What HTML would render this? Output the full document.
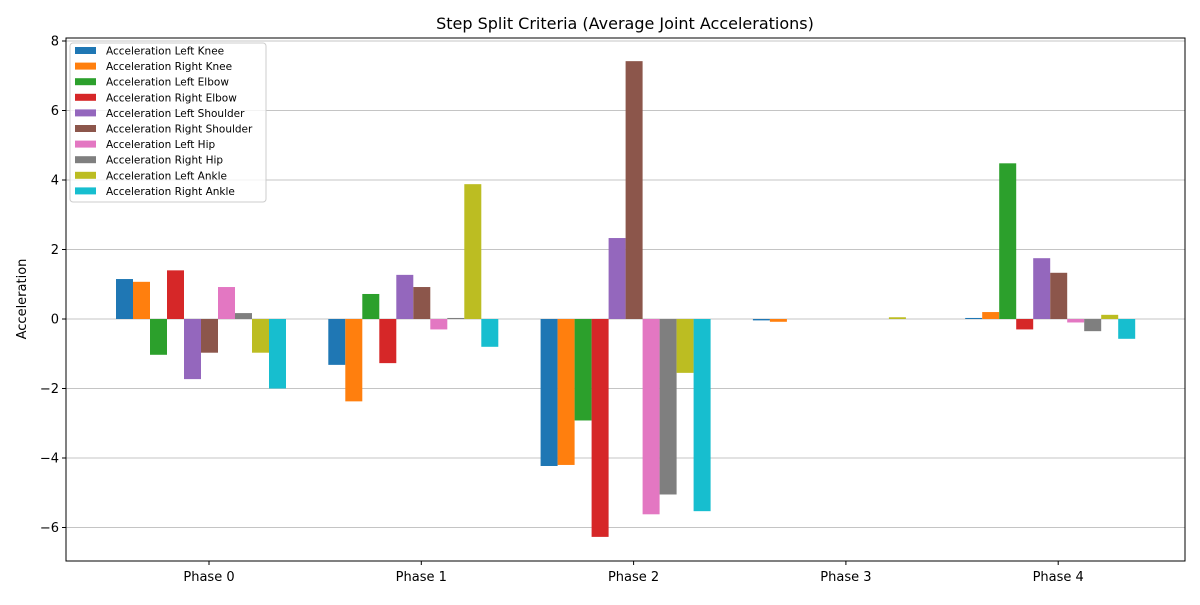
<!DOCTYPE html>
<html><head><meta charset="utf-8"><style>
body{margin:0;background:#fff;font-family:"Liberation Sans","DejaVu Sans",sans-serif}
</style></head><body>
<svg id="chart" width="1200" height="600" xmlns="http://www.w3.org/2000/svg" font-family="DejaVu Sans, Liberation Sans, sans-serif">
<rect width="1200" height="600" fill="#fff"/>
<text x="625" y="29" font-size="16" text-anchor="middle">Step Split Criteria (Average Joint Accelerations)</text>
<text transform="translate(26,299) rotate(-90)" font-size="13" text-anchor="middle">Acceleration</text>
<g id="grid"></g><g id="bars"></g><g id="axes"></g><g id="legend"></g>
</svg>
<script>
const categories=["Phase 0","Phase 1","Phase 2","Phase 3","Phase 4"];
const seriesNames=["Acceleration Left Knee","Acceleration Right Knee","Acceleration Left Elbow","Acceleration Right Elbow","Acceleration Left Shoulder","Acceleration Right Shoulder","Acceleration Left Hip","Acceleration Right Hip","Acceleration Left Ankle","Acceleration Right Ankle"];
const colors=["#1f77b4","#ff7f0e","#2ca02c","#d62728","#9467bd","#8c564b","#e377c2","#7f7f7f","#bcbd22","#17becf"];
const leftKnee=[1.15,-1.32,-4.23,-0.04,0.03];
const rightKnee=[1.07,-2.37,-4.2,-0.08,0.2];
const leftElbow=[-1.03,0.72,-2.92,0,4.48];
const rightElbow=[1.4,-1.27,-6.27,0,-0.3];
const leftShoulder=[-1.73,1.27,2.33,0,1.75];
const rightShoulder=[-0.97,0.92,7.42,0,1.33];
const leftHip=[0.92,-0.3,-5.62,0,-0.1];
const rightHip=[0.17,0.03,-5.05,0,-0.35];
const leftAnkle=[-0.97,3.88,-1.55,0.05,0.12];
const rightAnkle=[-2.0,-0.8,-5.53,0,-0.57];
const series=[leftKnee,rightKnee,leftElbow,rightElbow,leftShoulder,rightShoulder,leftHip,rightHip,leftAnkle,rightAnkle];
const yTicks=[-6,-4,-2,0,2,4,6,8];
const NS="http://www.w3.org/2000/svg";
const L=66,R=1185,T=38,B=561;
const y=v=>319-v*34.75;
const xc=i=>209+i*212.3;
const bw=17;
function mk(tag,attrs,parent){const e=document.createElementNS(NS,tag);for(const k in attrs)e.setAttribute(k,attrs[k]);parent.appendChild(e);return e;}
const grid=document.getElementById('grid'),bars=document.getElementById('bars'),axes=document.getElementById('axes'),leg=document.getElementById('legend');
yTicks.forEach(t=>{
 const g=mk('line',{x1:L,x2:R,y1:y(t),y2:y(t),stroke:'#b0b0b0','stroke-width':0.8},grid);
 
 
 mk('line',{x1:L-4,x2:L,y1:y(t),y2:y(t),stroke:'#000'},axes);
 const tx=mk('text',{x:L-7,y:y(t)+4.5,'font-size':13,'text-anchor':'end'},axes);
 tx.textContent=(t<0?'\u2212'+(-t):t);
 
 
});
series.forEach((s,j)=>{
 s.forEach((v,i)=>{
  const x=xc(i)-93+j*bw;
  const r=mk('rect',{x:x,width:bw,y:Math.min(y(v),y(0)),height:Math.abs(y(v)-y(0)),fill:colors[j]},bars);
  
  
 });
});
categories.forEach((c,i)=>{
 mk('line',{x1:xc(i),x2:xc(i),y1:B,y2:B+4,stroke:'#000'},axes);
 const tx=mk('text',{x:xc(i),y:B+20,'font-size':13,'text-anchor':'middle'},axes);
 tx.textContent=c;
 
 
});
const fr=mk('rect',{x:L,y:T,width:R-L,height:B-T,fill:'none',stroke:'#000','stroke-width':1},axes);


const lb=mk('rect',{x:70,y:43,width:196,height:159,fill:'#fff','fill-opacity':0.8,stroke:'#ccc',rx:3},leg);


seriesNames.forEach((n,j)=>{
 const yy=51+j*15.6;
 const p=mk('rect',{x:75,y:yy-4,width:21,height:7,fill:colors[j]},leg);
 
 
 const t=mk('text',{x:106,y:yy+3.5,'font-size':10.5},leg);
 t.textContent=n;
 
 
});
</script>
</body></html>
